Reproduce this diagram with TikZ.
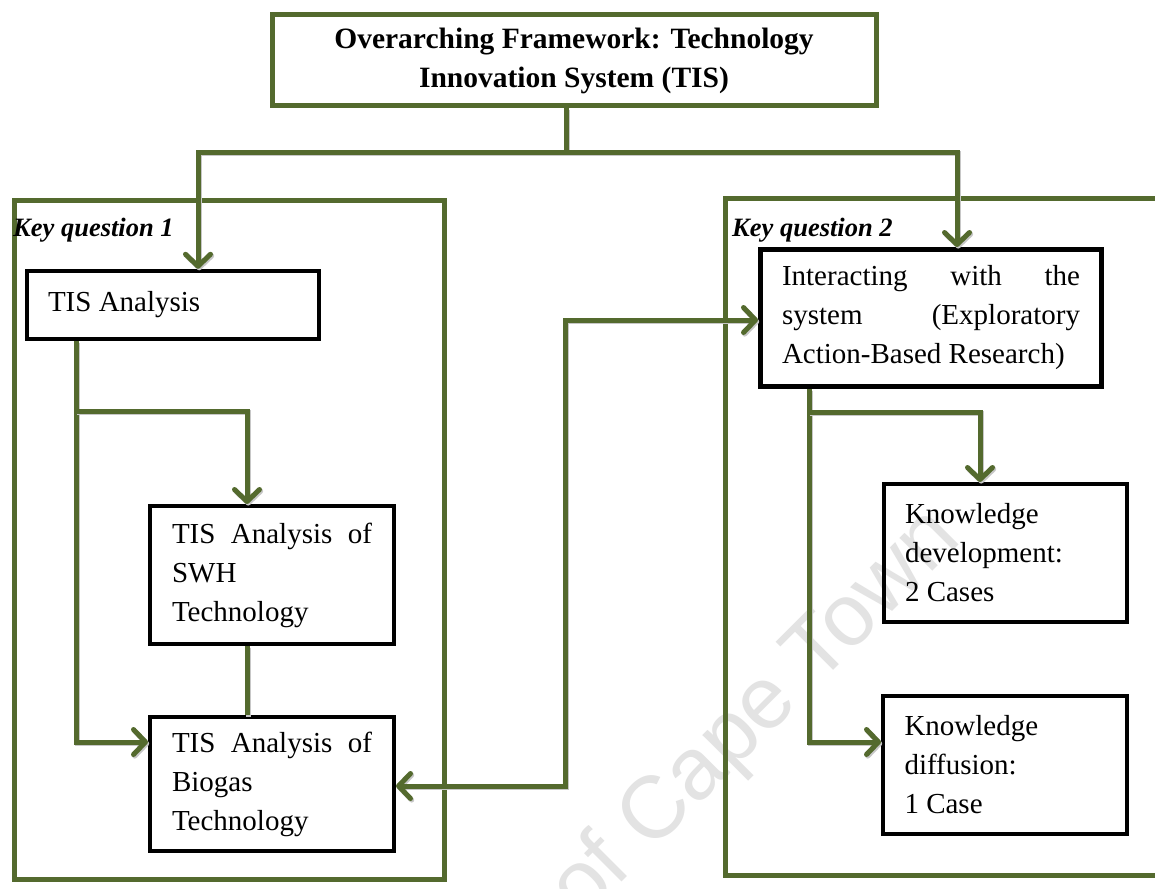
\documentclass[tikz,border=0pt]{standalone}
\usepackage{fontspec}
\setmainfont{Liberation Serif}
\newfontfamily\wmfont{Liberation Sans}
\usetikzlibrary{arrows.meta,calc}
\definecolor{olivegr}{RGB}{84,106,46}
\begin{document}
\begin{tikzpicture}[x=1pt,y=-1pt,
  conn/.style={draw=olivegr, line width=5pt,
    preaction={draw=black!22, line width=5pt, transform canvas={xshift=1.2pt,yshift=-1.6pt}}},
  barb/.tip={Straight Barb[length=12pt,width=25pt,round]},
  arr/.style={conn, -barb},
  dbl/.style={conn, barb-barb},
  frame/.style={draw=olivegr, line width=5pt, inner sep=0pt},
  blackbox/.style={draw=black, line width=4pt, inner sep=0pt, align=flush left,
    font=\fontsize{29}{39}\selectfont},
  titlebox/.style={draw=olivegr, line width=5pt, inner sep=0pt, align=flush center,
    font=\fontsize{29.5}{39}\selectfont\bfseries},
  kq/.style={inner sep=0pt, font=\fontsize{26.5}{30}\selectfont\bfseries\itshape},
  wm/.style={inner sep=0pt, text=black!11, font=\wmfont\fontsize{88}{88}\selectfont}
]
\clip (0,0) rectangle (1155,888);
\fill[white] (0,0) rectangle (1155,888);

% watermark
\node[wm, rotate=45, anchor=base east] (wm) at (963,541) {of Cape Town};

% frames
\node[frame, minimum width=430pt, minimum height=679pt] (kq1) at (229.5,540) {};
\node[frame, minimum width=460pt, minimum height=677pt] (kq2) at (955.5,537) {};
\node[kq, anchor=base west] (kq1lab) at (13,236) {Key question 1};
\node[kq, anchor=base west] (kq2lab) at (732,236) {Key question 2};

% title
\node[titlebox, minimum width=604pt, minimum height=91pt] (title) at (574,60.5)
  {Overarching Framework: Technology\\Innovation System (TIS)};

% boxes
\node[blackbox, line width=4.5pt, minimum width=292pt, minimum height=68pt, text width=250pt] (tis) at (173,305)
  {TIS Analysis};
\node[blackbox, minimum width=244pt, minimum height=138pt, text width=200pt] (swh) at (272,575)
  {\makebox[200pt][s]{TIS Analysis of}\\SWH\\Technology};
\node[blackbox, minimum width=244pt, minimum height=134pt, text width=200pt] (bio) at (272,784)
  {\makebox[200pt][s]{TIS Analysis of}\\Biogas\\Technology};
\node[blackbox, line width=5pt, minimum width=341pt, minimum height=137pt, text width=298pt] (inter) at (931,318)
  {\makebox[298pt][s]{Interacting with the}\\\makebox[298pt][s]{system (Exploratory}\\Action-Based Research)};
\node[blackbox, minimum width=243pt, minimum height=138pt, text width=201pt] (kdev) at (1005.5,553)
  {Knowledge\\development:\\2 Cases};
\node[blackbox, minimum width=244pt, minimum height=138pt, text width=201pt] (kdif) at (1005,765)
  {Knowledge\\diffusion:\\1 Case};

% connector coordinates
\coordinate (j0) at (566,152);
\coordinate (jL) at (198,152);
\coordinate (jR) at (957,152);
\coordinate (a1) at (76,411);
\coordinate (a2) at (247,411);
\coordinate (b1) at (76,742);
\coordinate (m1) at (565,786);
\coordinate (m2) at (565,320);
\coordinate (r1) at (809,412);
\coordinate (r2) at (980,412);
\coordinate (r3) at (809,742);

% connectors
\draw[conn] (title.south -| j0) -- (j0);
\draw[arr] (j0) -- (jL) -- (jL |- tis.north);
\draw[arr] (j0) -- (jR) -- (jR |- inter.north);
\draw[arr] (tis.south -| a1) -- (b1) -- (b1 -| bio.west);
\draw[arr] (a1) -- (a2) -- (a2 |- swh.north);
\draw[conn] (swh.south -| a2) -- (bio.north -| a2);
\draw[dbl] (m1 -| bio.east) -- (m1) -- (m2) -- (m2 -| inter.west);
\draw[arr] (inter.south -| r1) -- (r3) -- (r3 -| kdif.west);
\draw[arr] (r1) -- (r2) -- (r2 |- kdev.north);
\end{tikzpicture}
\end{document}
